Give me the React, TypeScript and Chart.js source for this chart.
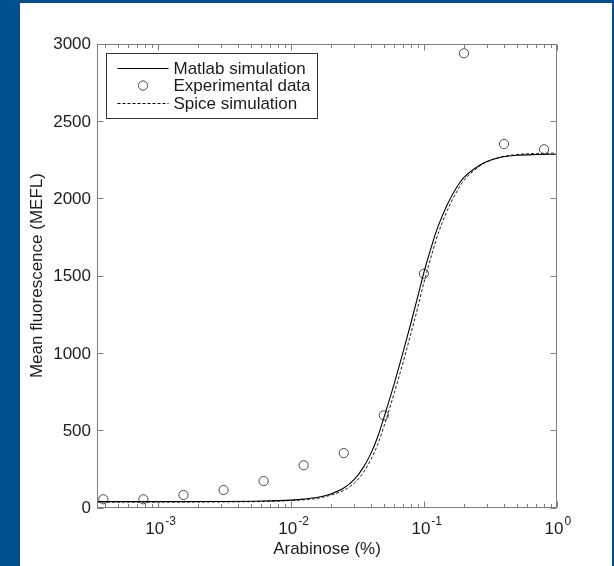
import { useEffect, useRef } from 'react';
import { Chart, registerables } from 'chart.js';

Chart.register(...registerables);

// ---- data ----
const expX = [0.000390625, 0.00078125, 0.0015625, 0.003125, 0.00625, 0.0125, 0.025, 0.05, 0.1, 0.2, 0.4, 0.8];
const expY = [53, 53, 81, 113, 171, 273, 352, 596, 1512, 2938, 2351, 2317];

const curveX = [0.00035, 0.001, 0.003, 0.006, 0.01, 0.0125, 0.016, 0.02, 0.025, 0.03, 0.035, 0.04, 0.045, 0.05, 0.06, 0.07, 0.08, 0.09, 0.1, 0.117, 0.128, 0.15, 0.176, 0.2, 0.264, 0.3, 0.373, 0.5, 0.7, 1.0];
const matlabY = [38, 38, 39, 42, 48, 54, 66, 88, 126, 182, 258, 350, 458, 580, 805, 1010, 1195, 1365, 1520, 1720, 1820, 1960, 2070, 2135, 2215, 2240, 2264, 2278, 2283, 2285];
const spiceY = [35, 35, 36, 39, 45, 50, 60, 80, 111, 158, 225, 311, 408, 522, 743, 944, 1127, 1295, 1454, 1662, 1772, 1922, 2041, 2116, 2210, 2237, 2266, 2283, 2290, 2292];

const xMin = 0.00035;
const xMax = 1;
const yMin = 0;
const yMax = 3000;
const yTicks = [0, 500, 1000, 1500, 2000, 2500, 3000];
const xMajorTicks = [0.001, 0.01, 0.1, 1];
const xTickBase = '10';
const xTickExps = ['-3', '-2', '-1', '0'];
const legendLabels = ['Matlab simulation', 'Experimental data', 'Spice simulation'];
const xTitle = 'Arabinose (%)';
const yTitle = 'Mean fluorescence (MEFL)';

const FONT = "'Liberation Sans', Arial, Helvetica, sans-serif";
const AXIS = '#7d7d7d';
const TEXT = '#1c1c1c';

const framePlugin = {
  id: 'matlabFrame',
  afterDatasetsDraw(chart: any) {
    const { ctx, chartArea: a, scales } = chart;
    const xs = scales.x;
    const ys = scales.y;
    const L = Math.round(a.left) + 0.5;
    const R = Math.round(a.right) - 0.5;
    const T = Math.round(a.top) + 0.5;
    const B = Math.round(a.bottom) - 0.5;
    ctx.save();
    // box
    ctx.strokeStyle = AXIS;
    ctx.lineWidth = 1;
    ctx.strokeRect(L, T, R - L, B - T);

    // x ticks (major + minor)
    const lo = Math.floor(Math.log10(xMin));
    const hi = Math.ceil(Math.log10(xMax));
    ctx.beginPath();
    for (let e = lo; e <= hi; e++) {
      for (let m = 1; m <= 9; m++) {
        const v = m * Math.pow(10, e);
        if (v < xMin * 0.9999 || v > xMax * 1.0001) continue;
        const px = Math.round(xs.getPixelForValue(v)) + 0.5;
        const len = m === 1 ? 6 : 3.5;
        ctx.moveTo(px, B);
        ctx.lineTo(px, B - len);
        ctx.moveTo(px, T);
        ctx.lineTo(px, T + len);
      }
    }
    // y ticks
    yTicks.forEach((v) => {
      const py = Math.round(ys.getPixelForValue(v)) + 0.5;
      ctx.moveTo(L, py);
      ctx.lineTo(L + 6, py);
      ctx.moveTo(R, py);
      ctx.lineTo(R - 6, py);
    });
    ctx.stroke();

    // y tick labels
    ctx.fillStyle = TEXT;
    ctx.font = `17px ${FONT}`;
    ctx.textAlign = 'right';
    ctx.textBaseline = 'middle';
    yTicks.forEach((v) => {
      ctx.fillText(String(v), a.left - 6, ys.getPixelForValue(v) + 1);
    });

    // x tick labels: 10^e
    xMajorTicks.forEach((v, i) => {
      const px = xs.getPixelForValue(v);
      ctx.font = `17px ${FONT}`;
      ctx.textAlign = 'center';
      ctx.textBaseline = 'alphabetic';
      const w = ctx.measureText(xTickBase).width;
      ctx.fillText(xTickBase, px - 3, a.bottom + 26);
      ctx.font = `12px ${FONT}`;
      ctx.textAlign = 'left';
      ctx.fillText(xTickExps[i], px - 3 + w / 2 + 1, a.bottom + 17);
    });

    // axis titles
    ctx.font = `17px ${FONT}`;
    ctx.textAlign = 'center';
    ctx.textBaseline = 'middle';
    ctx.fillText(xTitle, (a.left + a.right) / 2, a.bottom + 42);
    ctx.save();
    ctx.translate(a.left - 60, (a.top + a.bottom) / 2);
    ctx.rotate(-Math.PI / 2);
    ctx.fillText(yTitle, 0, 0);
    ctx.restore();

    // legend
    const bx = Math.round(a.left + 9) + 0.5;
    const by = Math.round(a.top + 9) + 0.5;
    const bw = 211;
    const bh = 65;
    ctx.fillStyle = '#ffffff';
    ctx.fillRect(bx, by, bw, bh);
    ctx.strokeStyle = '#333333';
    ctx.strokeRect(bx, by, bw, bh);
    const rowY = [by + 14.5, by + 32, by + 49.5];
    const sx0 = bx + 11;
    const sx1 = bx + 62;
    // row 1 solid line
    ctx.strokeStyle = '#000';
    ctx.lineWidth = 1;
    ctx.beginPath();
    ctx.moveTo(sx0, Math.round(rowY[0]) + 0.5);
    ctx.lineTo(sx1, Math.round(rowY[0]) + 0.5);
    ctx.stroke();
    // row 2 circle
    ctx.strokeStyle = '#4a4a4a';
    ctx.beginPath();
    ctx.arc((sx0 + sx1) / 2, rowY[1], 4.6, 0, Math.PI * 2);
    ctx.stroke();
    // row 3 dashed line
    ctx.strokeStyle = '#000';
    ctx.setLineDash([3, 2]);
    ctx.beginPath();
    ctx.moveTo(sx0, Math.round(rowY[2]) + 0.5);
    ctx.lineTo(sx1, Math.round(rowY[2]) + 0.5);
    ctx.stroke();
    ctx.setLineDash([]);
    ctx.fillStyle = TEXT;
    ctx.font = `17px ${FONT}`;
    ctx.textAlign = 'left';
    ctx.textBaseline = 'middle';
    legendLabels.forEach((t, i) => ctx.fillText(t, sx1 + 5, rowY[i] + 1));
    ctx.restore();
  },
};

export default function App() {
  const ref = useRef<HTMLCanvasElement>(null);
  useEffect(() => {
    const toPts = (xs: number[], ys: number[]) => xs.map((x, i) => ({ x, y: ys[i] }));
    const chart = new Chart(ref.current as HTMLCanvasElement, {
      type: 'line',
      data: {
        datasets: [
          {
            label: legendLabels[0],
            data: toPts(curveX, matlabY),
            borderColor: '#000000',
            borderWidth: 1.1,
            pointRadius: 0,
            cubicInterpolationMode: 'monotone',
            fill: false,
          },
          {
            label: legendLabels[1],
            data: toPts(expX, expY),
            showLine: false,
            pointRadius: 4.6,
            pointBorderColor: '#4a4a4a',
            pointBackgroundColor: 'rgba(255,255,255,0)',
            pointBorderWidth: 1,
          },
          {
            label: legendLabels[2],
            data: toPts(curveX, spiceY),
            borderColor: '#222222',
            borderWidth: 1,
            borderDash: [3, 2],
            pointRadius: 0,
            cubicInterpolationMode: 'monotone',
            fill: false,
          },
        ],
      } as any,
      options: {
        animation: false,
        responsive: false,
        events: [],
        layout: { padding: { left: 77, right: 55, top: 40.7, bottom: 58.5 } },
        scales: {
          x: { type: 'logarithmic', min: xMin, max: xMax, display: false },
          y: { type: 'linear', min: yMin, max: yMax, display: false },
        },
        plugins: { legend: { display: false }, tooltip: { enabled: false } },
      } as any,
      plugins: [framePlugin],
    });
    return () => chart.destroy();
  }, []);

  return (
    <div style={{ position: 'fixed', left: 0, top: 0, width: 614, height: 566, background: '#02508f', overflow: 'hidden' }}>
      <div style={{ position: 'absolute', left: 20, top: 3, width: 592, height: 563, background: '#ffffff' }}>
        <canvas ref={ref} width={592} height={563} style={{ display: 'block', width: 592, height: 563 }} />
      </div>
    </div>
  );
}
